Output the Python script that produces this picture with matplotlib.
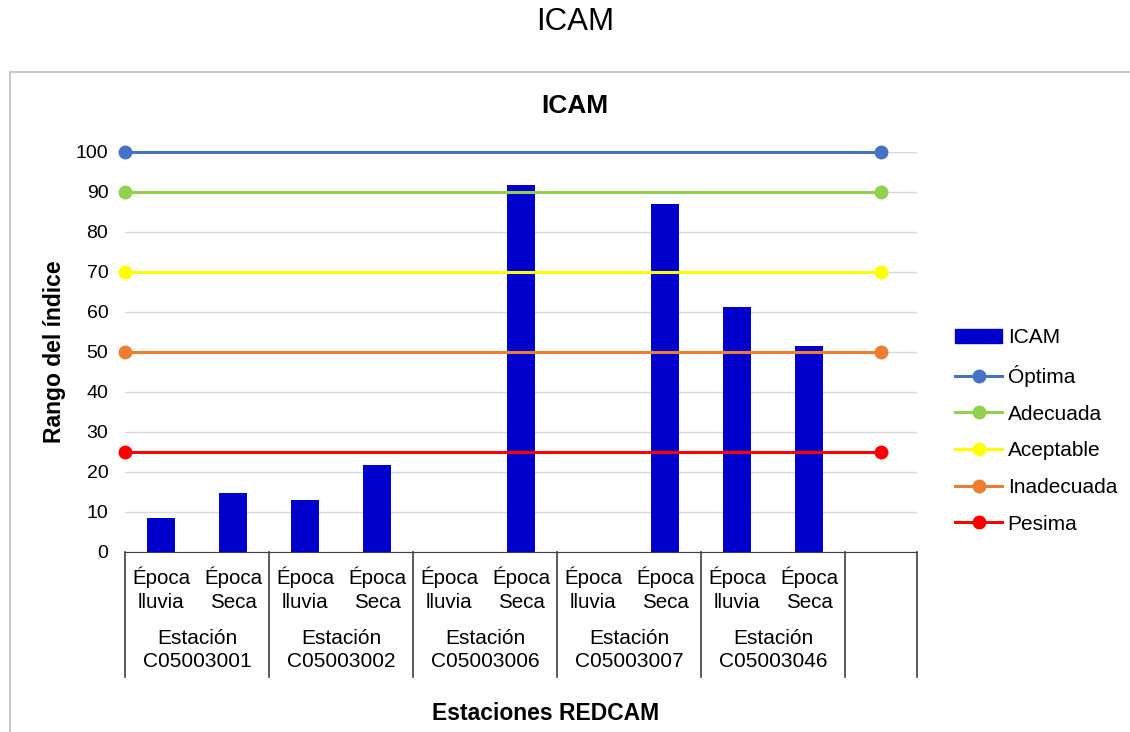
import matplotlib.pyplot as plt
import matplotlib.patches as mpatches
import matplotlib.transforms as mtransforms
from matplotlib.lines import Line2D
import numpy as np

plt.rcParams['font.family'] = ['Liberation Sans', 'DejaVu Sans']

# datos
estaciones = ["Estación\nC05003001", "Estación\nC05003002", "Estación\nC05003006",
              "Estación\nC05003007", "Estación\nC05003046"]
epocas = ["Época\nlluvia", "Época\nSeca"]
icam = [8.5, 14.8, 13.0, 21.8, 0, 91.8, 0, 87.0, 61.3, 51.5]

rangos = ["Óptima", "Adecuada", "Aceptable", "Inadecuada", "Pesima"]
rango_val = [100, 90, 70, 50, 25]
rango_col = ["#4472C4", "#92D050", "#FFFF00", "#ED7D31", "#FF0000"]

fig = plt.figure(figsize=(11.3, 7.32), dpi=100)
ax = fig.add_axes([125 / 1130, 1 - 552 / 732, (917 - 125) / 1130, 400 / 732])

# marco del grafico
marco = mpatches.Rectangle((10 / 1130, -0.05), 1.2, 1 - 72 / 732 + 0.05,
                           transform=fig.transFigure, fill=False,
                           edgecolor="#BFBFBF", linewidth=1.2)
fig.patches.append(marco)

x = np.arange(len(icam))
ax.bar(x, icam, width=0.4, color="#0000CC", zorder=2)

for v, c in zip(rango_val, rango_col):
    ax.plot([-0.5, 10], [v, v], color=c, linewidth=2.2, marker="o", markersize=9,
            clip_on=False, zorder=3)

ax.set_xlim(-0.5, 10.5)
ax.set_ylim(0, 100)
ax.set_yticks(range(0, 101, 10))
ax.yaxis.grid(True, color="#D9D9D9", linewidth=1, zorder=0)
ax.set_axisbelow(True)
for s in ["top", "right", "left"]:
    ax.spines[s].set_visible(False)
ax.spines["bottom"].set_color("#404040")
ax.tick_params(axis="y", length=0, labelsize=14, pad=12)
ax.tick_params(axis="x", length=0, labelbottom=False)

# etiquetas jerarquicas del eje x
tr = mtransforms.blended_transform_factory(ax.transData, ax.transAxes)
for i in range(len(icam)):
    ax.text(i, -(589.5 - 552) / 400, epocas[i % 2], transform=tr, ha="center",
            va="center", fontsize=14.8, linespacing=1.3)
for g, nombre in enumerate(estaciones):
    ax.text(2 * g + 0.5, -(650 - 552) / 400, nombre, transform=tr, ha="center",
            va="center", fontsize=15, linespacing=1.32)
for xs in [-0.5, 1.5, 3.5, 5.5, 7.5, 9.5, 10.5]:
    ax.plot([xs, xs], [0, -0.3125], transform=tr, color="#404040", linewidth=1.2,
            clip_on=False)

fig.text(54 / 1130, 1 - 352 / 732, "Rango del índice", rotation=90, ha="center",
         va="center", fontsize=16.5, fontweight="bold")
fig.text(546 / 1130, 1 - 714 / 732, "Estaciones REDCAM", ha="center", va="center",
         fontsize=16.5, fontweight="bold")
fig.text(575 / 1130, 1 - 106 / 732, "ICAM", ha="center", va="center",
         fontsize=19, fontweight="bold")
fig.text(575 / 1130, 1 - 22 / 732, "ICAM", ha="center", va="center", fontsize=22.5)

# leyenda
handles = [mpatches.Patch(color="#0000CC", label="ICAM")]
for r, c in zip(rangos, rango_col):
    handles.append(Line2D([0], [0], color=c, linewidth=2.2, marker="o", markersize=9, label=r))
fig.legend(handles=handles, loc="center left", bbox_to_anchor=(940 / 1130, 1 - 431 / 732),
           frameon=False, fontsize=15, handlelength=2.3, labelspacing=0.85,
           handletextpad=0.25, borderpad=0.2)

fig.savefig("out.png", dpi=100)
